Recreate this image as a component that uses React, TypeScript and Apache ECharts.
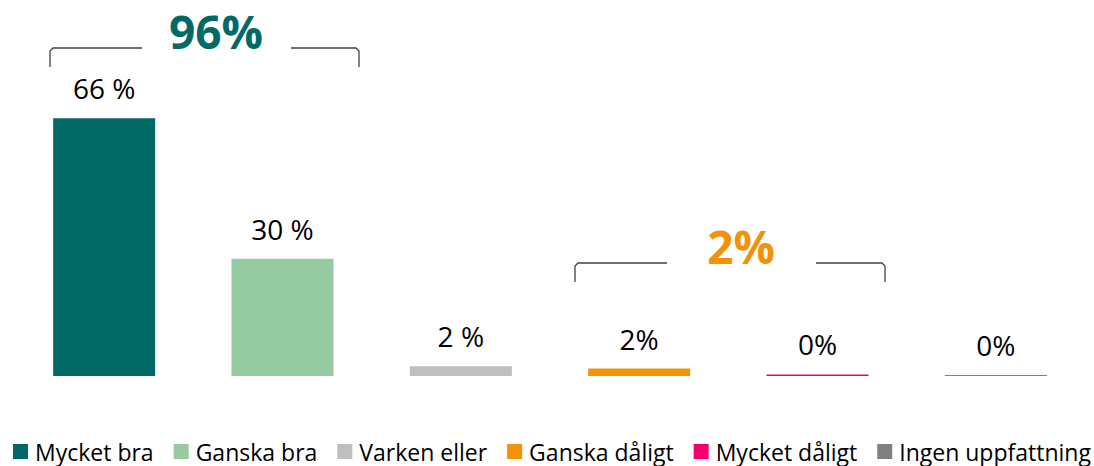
import React, { useEffect, useRef } from "react";
import * as echarts from "echarts";

const categories = ["Mycket bra", "Ganska bra", "Varken eller", "Ganska dåligt", "Mycket dåligt", "Ingen uppfattning"];
const values = [66, 30, 2.5, 1.9, 0.4, 0.25];
const valueLabels = ["66 %", "30 %", "2 %", "2%", "0%", "0%"];
const colors = ["#016A66", "#96CAA0", "#BFBFBF", "#F39208", "#F5006A", "#808080"];
const groupTotals = ["96%", "2%"];
const groupColors = ["#016A66", "#F39208"];

const FONT = "'Open Sans', 'Noto Sans', sans-serif";

export default function App() {
  const ref = useRef<HTMLDivElement>(null);
  useEffect(() => {
    if (!ref.current) return;
    const chart = echarts.init(ref.current, null, { renderer: "svg" });
    const bracketStyle = { stroke: "#404040", lineWidth: 1.3, fill: null };
    const option: any = {
      animation: false,
      backgroundColor: "#ffffff",
      grid: { left: 15, right: 9, top: 102.7, bottom: 90, containLabel: false },
      xAxis: {
        type: "category",
        data: categories,
        show: false,
      },
      yAxis: {
        type: "value",
        min: 0,
        max: 70,
        show: false,
        splitLine: { show: false },
      },
      legend: {
        data: categories,
        left: 13,
        top: 440,
        width: 1081,
        padding: 0,
        itemWidth: 15,
        itemHeight: 15,
        itemGap: 20,
        icon: "rect",
        textStyle: { fontFamily: FONT, fontSize: 23, lineHeight: 22, color: "#000", padding: [0, 0, 0, 2] },
      },
      series: categories.map((name, i) => ({
        type: "bar",
        name,
        stack: "all",
        barWidth: 102,
        itemStyle: { color: colors[i] },
        data: categories.map((_, j) => (j === i ? values[i] : "-")),
        label: {
          show: true,
          position: "top",
          distance: 16,
          formatter: valueLabels[i],
          fontFamily: FONT,
          fontSize: 28,
          lineHeight: 28,
          color: "#000",
        },
      })),
      graphic: [
        { type: "polyline", shape: { points: [[50, 67], [50, 51], [53, 48], [142, 48]] }, style: bracketStyle },
        { type: "polyline", shape: { points: [[291, 48], [356, 48], [359, 51], [359, 67]] }, style: bracketStyle },
        {
          type: "text",
          x: 216,
          y: 31,
          style: {
            text: groupTotals[0],
            fill: groupColors[0],
            font: `bold 46px ${FONT}`,
            textAlign: "center",
            textVerticalAlign: "middle",
          },
        },
        { type: "polyline", shape: { points: [[575, 282], [575, 266], [578, 263], [667, 263]] }, style: bracketStyle },
        { type: "polyline", shape: { points: [[816, 263], [882, 263], [885, 266], [885, 282]] }, style: bracketStyle },
        {
          type: "text",
          x: 741,
          y: 246,
          style: {
            text: groupTotals[1],
            fill: groupColors[1],
            font: `bold 46px ${FONT}`,
            textAlign: "center",
            textVerticalAlign: "middle",
          },
        },
      ],
    };
    chart.setOption(option);
    return () => chart.dispose();
  }, []);
  return (
    <div
      ref={ref}
      style={{ position: "fixed", left: 0, top: 0, width: 1094, height: 466, background: "#fff" }}
    />
  );
}
